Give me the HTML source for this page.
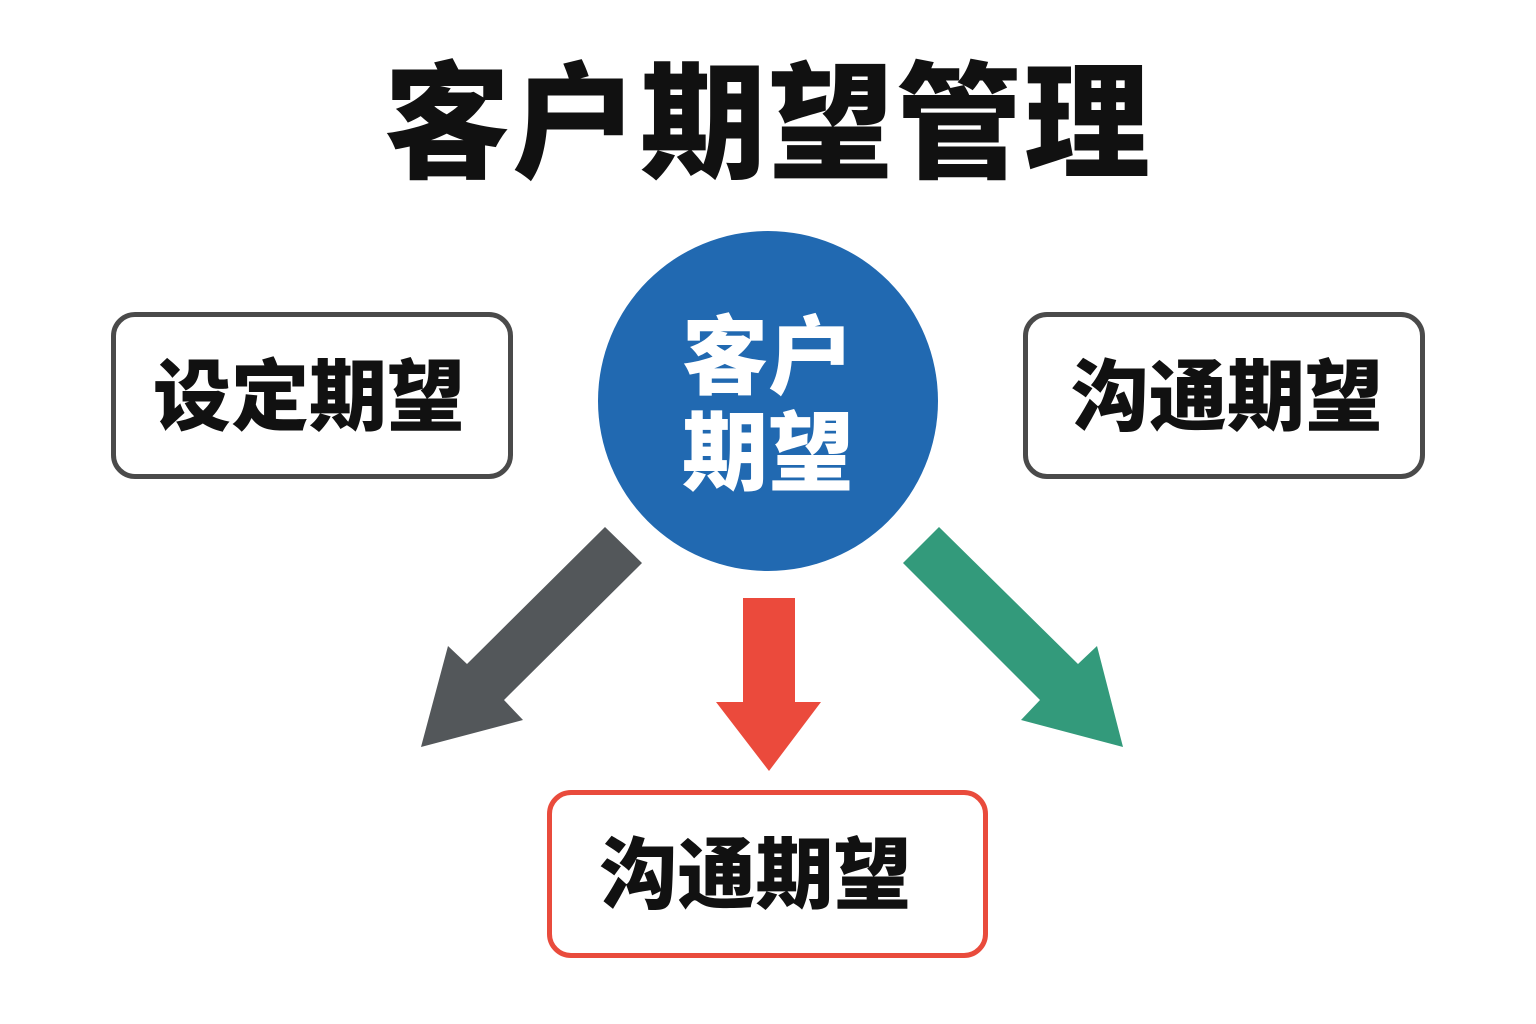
<!DOCTYPE html>
<html><head><meta charset="utf-8"><style>
html,body{margin:0;padding:0;background:#fff;}
body{width:1536px;height:1024px;position:relative;overflow:hidden;font-family:"Liberation Sans","Noto Sans CJK SC",sans-serif;}
.t{position:absolute;font-weight:900;white-space:nowrap;text-align:center;line-height:1;}
.box{position:absolute;box-sizing:border-box;border-radius:24px;background:#fff;}
</style></head><body>
<div class="t" style="left:0;width:1536px;top:62px;font-size:126px;color:#111;letter-spacing:2px;">客户期望管理</div>
<svg width="1536" height="1024" style="position:absolute;left:0;top:0">
<circle cx="768" cy="401" r="170" fill="#2169b1"/>
<polygon points="605,527 642,563 504,700 523,720 421,747 448,646 467,664" fill="#53575a"/>
<polygon points="939,527 903,563 1040,700 1021,720 1123,747 1097,646 1078,664" fill="#339a7b"/>
<polygon points="743,598 795,598 795,702 821,702 769,771 716,702 743,702" fill="#eb4a3c"/>
</svg>
<div class="t" style="left:598px;width:340px;top:310px;font-size:86px;color:#fff;line-height:96px;">客户<br>期望</div>
<div class="box" style="left:111px;top:312px;width:402px;height:167px;border:5px solid #4a4a4a;"></div>
<div class="t" style="left:108px;width:402px;top:358px;font-size:78px;color:#111;">设定期望</div>
<div class="box" style="left:1023px;top:312px;width:402px;height:167px;border:5px solid #4a4a4a;"></div>
<div class="t" style="left:1026px;width:402px;top:358px;font-size:78px;color:#111;">沟通期望</div>
<div class="box" style="left:547px;top:790px;width:441px;height:168px;border:5px solid #e94b3c;"></div>
<div class="t" style="left:535px;width:441px;top:836px;font-size:78px;color:#111;">沟通期望</div>
</body></html>
